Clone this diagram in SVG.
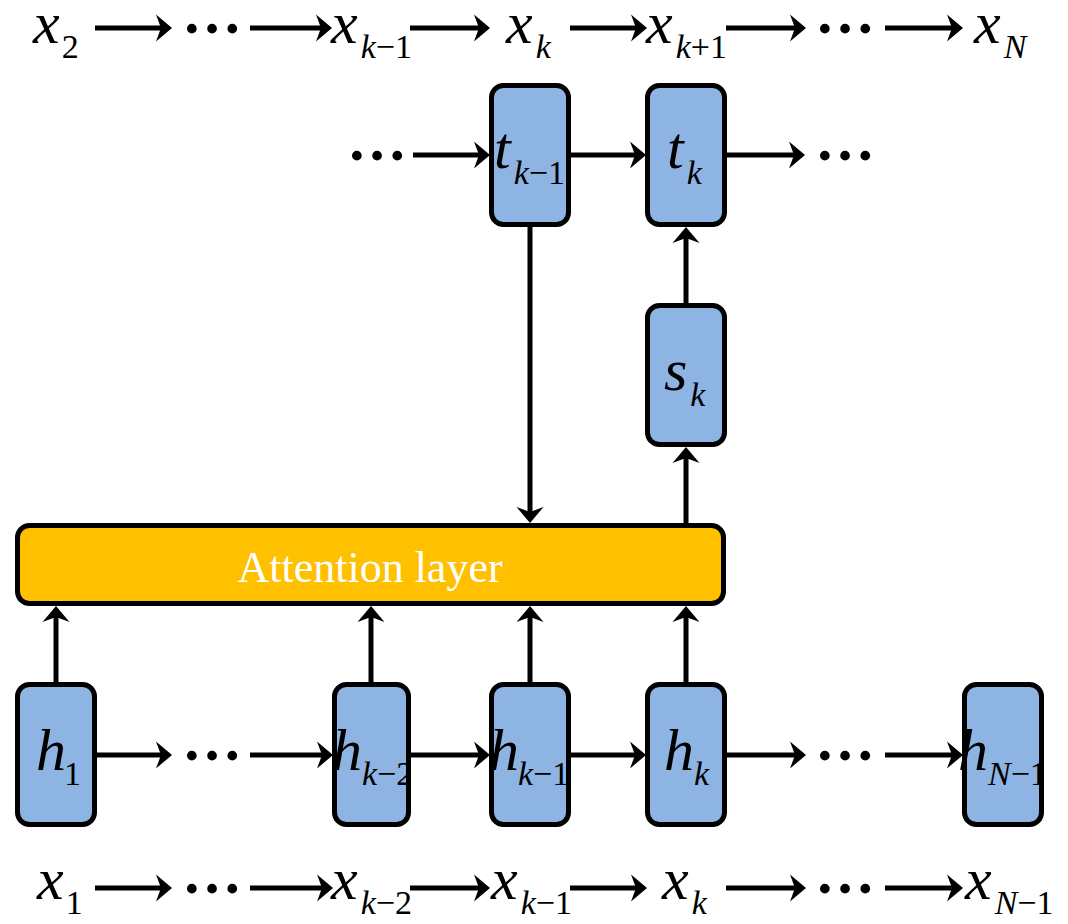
<svg xmlns="http://www.w3.org/2000/svg" width="1068" height="924" viewBox="0 0 1068 924">
<style>
.box{fill:#8EB4E3;stroke:#000;stroke-width:5}
.att{fill:#FFC000;stroke:#000;stroke-width:5}
.ln{stroke:#000;stroke-width:5;fill:none;marker-end:url(#ah)}
.v{font-family:"Liberation Serif","Times New Roman",serif;font-size:60px;font-style:italic;fill:#000}
.s{font-size:34px}
.u{font-style:normal}
.dots{font-family:"Liberation Serif","Times New Roman",serif;font-size:60px;font-weight:bold;fill:#000}
.lbl{font-family:"Liberation Serif","Times New Roman",serif;font-size:44px;fill:#fff}
</style>
<defs>
<marker id="ah" markerUnits="userSpaceOnUse" orient="auto" markerWidth="30" markerHeight="30" viewBox="-15 -15 30 30" refX="0" refY="0" overflow="visible">
<path d="M11,0 L-5,-13.5 L0,0 L-5,13.5 Z" fill="#000"/>
</marker>
<clipPath id="cB"><rect x="300" y="684" width="107" height="140"/></clipPath>
<clipPath id="cE"><rect x="930" y="684" width="110" height="140"/></clipPath>
</defs>
<rect width="1068" height="924" fill="#fff"/>

<g id="connectors">
<line class="ln" x1="95" y1="28" x2="161" y2="28"/>
<line class="ln" x1="250" y1="28" x2="321" y2="28"/>
<line class="ln" x1="410" y1="28" x2="479" y2="28"/>
<line class="ln" x1="570" y1="28" x2="636" y2="28"/>
<line class="ln" x1="726" y1="28" x2="795" y2="28"/>
<line class="ln" x1="885" y1="28" x2="952" y2="28"/>
<line class="ln" x1="413" y1="155" x2="479" y2="155"/>
<line class="ln" x1="571" y1="155" x2="635" y2="155"/>
<line class="ln" x1="727" y1="155" x2="794" y2="155"/>
<line class="ln" x1="97" y1="755" x2="161" y2="755"/>
<line class="ln" x1="250" y1="755" x2="322" y2="755"/>
<line class="ln" x1="410" y1="755" x2="479" y2="755"/>
<line class="ln" x1="571" y1="755" x2="635" y2="755"/>
<line class="ln" x1="727" y1="755" x2="795" y2="755"/>
<line class="ln" x1="885" y1="755" x2="952" y2="755"/>
<line class="ln" x1="95" y1="888" x2="161" y2="888"/>
<line class="ln" x1="250" y1="888" x2="322" y2="888"/>
<line class="ln" x1="410" y1="888" x2="479" y2="888"/>
<line class="ln" x1="570" y1="888" x2="636" y2="888"/>
<line class="ln" x1="726" y1="888" x2="795" y2="888"/>
<line class="ln" x1="885" y1="888" x2="952" y2="888"/>
<line class="ln" x1="56" y1="684" x2="56" y2="617"/>
<line class="ln" x1="371" y1="684" x2="371" y2="617"/>
<line class="ln" x1="530" y1="684" x2="530" y2="617"/>
<line class="ln" x1="686" y1="684" x2="686" y2="617"/>
<line class="ln" x1="530" y1="225" x2="530" y2="512"/>
<line class="ln" x1="686" y1="525" x2="686" y2="458"/>
<line class="ln" x1="686" y1="305" x2="686" y2="238"/>
</g>

<g id="attention">
<rect class="att" x="17.5" y="525.5" width="706" height="78" rx="12"/>
<text class="lbl" x="370" y="582" text-anchor="middle">Attention layer</text>
</g>

<g id="t_km1">
<rect class="box" x="491.5" y="85.5" width="77" height="139" rx="12"/>
<text class="v" x="494" y="168">t<tspan class="s" dy="16" dx="3">k</tspan><tspan class="s u">−1</tspan></text>
</g>
<g id="t_k">
<rect class="box" x="647.5" y="85.5" width="77" height="139" rx="12"/>
<text class="v" x="667" y="168">t<tspan class="s" dy="16" dx="3">k</tspan></text>
</g>
<g id="s_k">
<rect class="box" x="647.5" y="305.5" width="77" height="139" rx="12"/>
<text class="v" x="664" y="390">s<tspan class="s" dy="16" dx="3">k</tspan></text>
</g>

<g id="h_1">
<rect class="box" x="17.5" y="684.5" width="77" height="140" rx="12"/>
<text class="v" x="36" y="770">h<tspan class="s u" dy="15" dx="-2">1</tspan></text>
</g>
<g id="h_km2">
<rect class="box" x="334.5" y="684.5" width="74" height="140" rx="12"/>
<text class="v" x="332" y="770" clip-path="url(#cB)">h<tspan class="s" dy="15">k</tspan><tspan class="s u">−2</tspan></text>
</g>
<g id="h_km1">
<rect class="box" x="491.5" y="684.5" width="77" height="140" rx="12"/>
<text class="v" x="489" y="770">h<tspan class="s" dy="15" dx="-1">k</tspan><tspan class="s u">−1</tspan></text>
</g>
<g id="h_k">
<rect class="box" x="647.5" y="684.5" width="77" height="140" rx="12"/>
<text class="v" x="664" y="770">h<tspan class="s" dy="15">k</tspan></text>
</g>
<g id="h_Nm1">
<rect class="box" x="964.5" y="684.5" width="77" height="140" rx="12"/>
<text class="v" x="958" y="770" clip-path="url(#cE)">h<tspan class="s" dy="15">N</tspan><tspan class="s u">−1</tspan></text>
</g>

<g id="top_labels">
<text class="v" x="33" y="43">x<tspan class="s u" dy="15" dx="2">2</tspan></text>
<text class="dots" x="182" y="33">…</text>
<text class="v" x="331" y="43">x<tspan class="s" dy="15" dx="3">k</tspan><tspan class="s u">−1</tspan></text>
<text class="v" x="506" y="43">x<tspan class="s" dy="15" dx="3">k</tspan></text>
<text class="v" x="646" y="43">x<tspan class="s" dy="15" dx="3">k</tspan><tspan class="s u">+1</tspan></text>
<text class="dots" x="815" y="33">…</text>
<text class="v" x="974" y="43">x<tspan class="s" dy="15" dx="3">N</tspan></text>
</g>

<g id="t_row_dots">
<text class="dots" x="347" y="160">…</text>
<text class="dots" x="815" y="160">…</text>
</g>
<g id="h_row_dots">
<text class="dots" x="182" y="760">…</text>
<text class="dots" x="815" y="760">…</text>
</g>

<g id="bottom_labels">
<text class="v" x="37" y="899">x<tspan class="s u" dy="15" dx="2">1</tspan></text>
<text class="dots" x="182" y="893">…</text>
<text class="v" x="331" y="899">x<tspan class="s" dy="15" dx="3">k</tspan><tspan class="s u">−2</tspan></text>
<text class="v" x="491" y="899">x<tspan class="s" dy="15" dx="3">k</tspan><tspan class="s u">−1</tspan></text>
<text class="v" x="662" y="899">x<tspan class="s" dy="15" dx="3">k</tspan></text>
<text class="dots" x="815" y="893">…</text>
<text class="v" x="965" y="899">x<tspan class="s" dy="15" dx="3">N</tspan><tspan class="s u">−1</tspan></text>
</g>
</svg>
